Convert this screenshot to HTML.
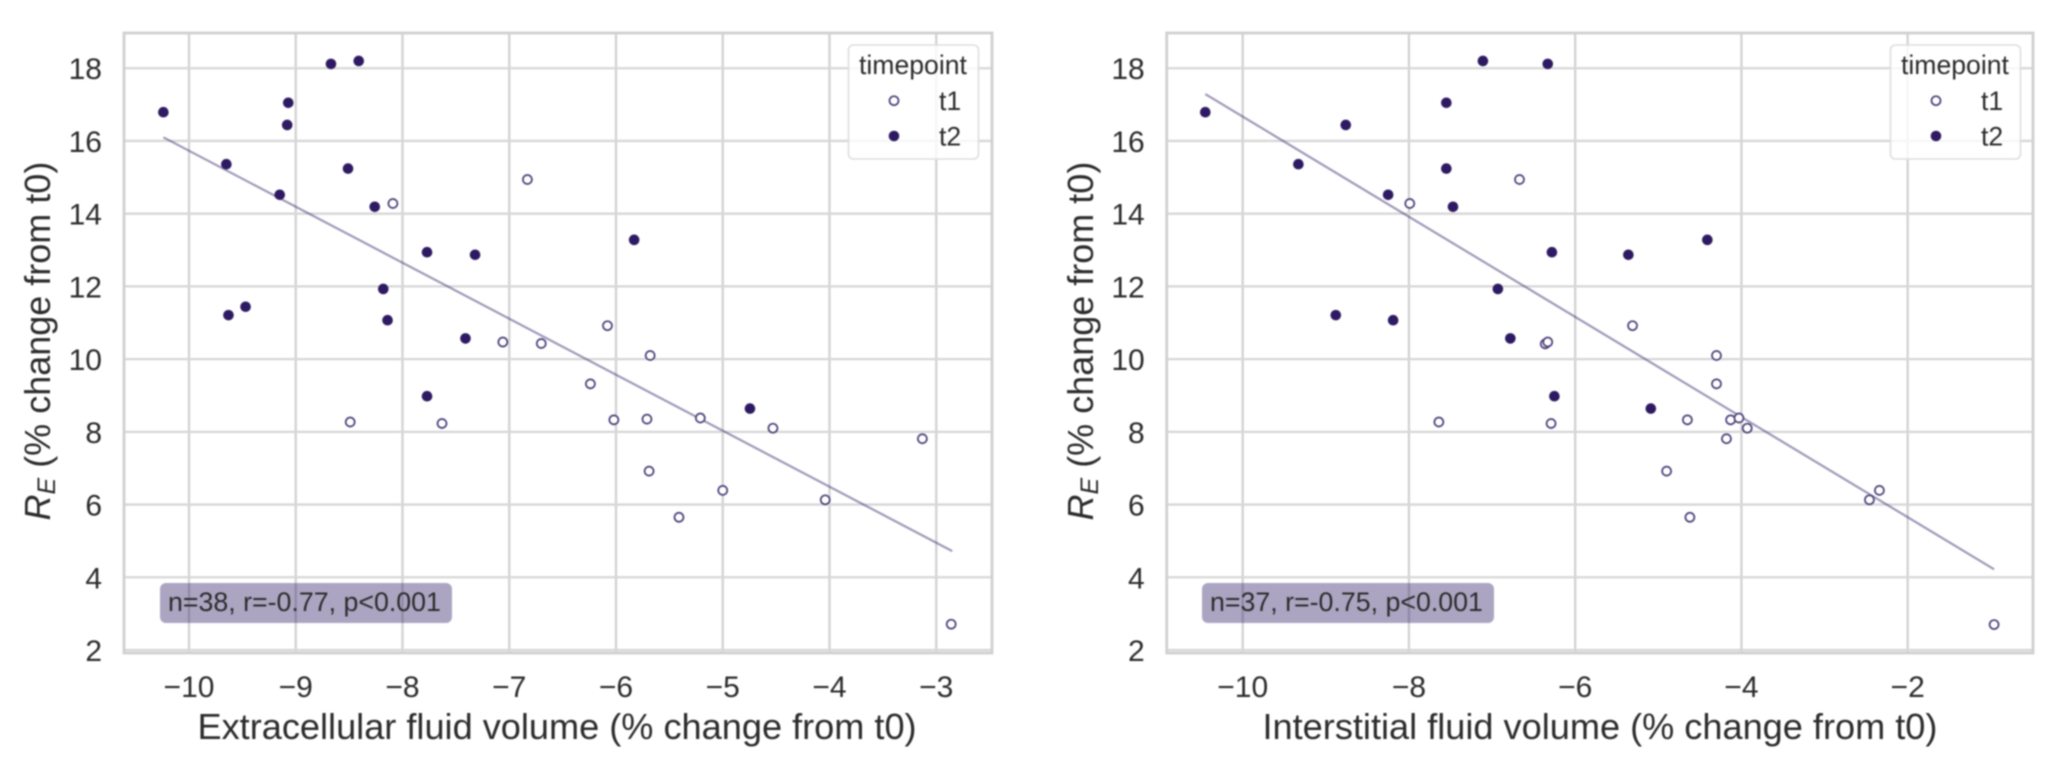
<!DOCTYPE html>
<html lang="en">
<head>
<meta charset="utf-8">
<title>RE versus fluid volume change</title>
<style>
html,body{margin:0;padding:0;background:#fff;width:2055px;height:771px;overflow:hidden}
svg{display:block;filter:blur(0.7px)}
text{font-family:"Liberation Sans",sans-serif;fill:#2c2c2c}
</style>
</head>
<body>
<svg id="figure" xmlns="http://www.w3.org/2000/svg" width="2055" height="771" viewBox="0 0 2055 771"></svg>
<script>
const yTicks = [2, 4, 6, 8, 10, 12, 14, 16, 18];
const leftXTicks = [-10, -9, -8, -7, -6, -5, -4, -3];
const rightXTicks = [-10, -8, -6, -4, -2];

const leftT1X = [-8.09, -8.49, -7.63, -7.06, -6.70, -6.83, -6.08, -5.68, -6.24, -6.02, -5.71, -5.21, -4.53, -3.13, -5.69, -5.00, -5.41, -4.04, -2.86];
const leftT1Y = [14.28, 8.27, 8.23, 10.47, 10.43, 14.94, 10.92, 10.10, 9.32, 8.33, 8.35, 8.38, 8.10, 7.81, 6.92, 6.39, 5.65, 6.13, 2.71];
const leftT2X = [-10.24, -9.65, -9.15, -9.07, -9.08, -8.67, -8.41, -8.51, -8.26, -9.63, -9.47, -8.18, -8.14, -7.77, -7.32, -7.41, -7.77, -5.83, -4.745];
const leftT2Y = [16.79, 15.36, 14.52, 17.05, 16.44, 18.12, 18.20, 15.24, 14.19, 11.21, 11.44, 11.93, 11.07, 12.94, 12.87, 10.57, 8.98, 13.28, 8.64];
const leftFitX = [-10.24, -2.85];
const leftFitY = [16.10, 4.72];

const rightT1X = [-7.99, -6.67, -7.64, -6.29, -6.36, -6.33, -5.31, -4.30, -4.30, -4.65, -4.13, -4.03, -3.93, -4.18, -4.90, -4.62, -2.46, -2.34, -0.96];
const rightT1Y = [14.28, 14.94, 8.27, 8.23, 10.42, 10.47, 10.92, 10.10, 9.32, 8.33, 8.33, 8.38, 8.10, 7.81, 6.92, 5.65, 6.13, 6.39, 2.70];
const rightT2X = [-10.45, -9.33, -8.76, -8.25, -7.55, -7.55, -7.47, -7.11, -6.33, -6.28, -8.88, -8.19, -6.93, -6.78, -6.25, -5.36, -4.41, -5.09];
const rightT2Y = [16.79, 15.36, 16.44, 14.52, 17.05, 15.24, 14.19, 18.20, 18.12, 12.94, 11.21, 11.07, 11.93, 10.57, 8.98, 12.87, 13.28, 8.64];
const rightFitX = [-10.45, -0.96];
const rightFitY = [17.29, 4.22];

const legendSeries = ['t1', 't2'];

const NS = 'http://www.w3.org/2000/svg';
const figure = document.getElementById('figure');

function yScale(v) { return 650 - (v - 2) * 36.36; }
function leftXScale(v) { return 189 + (v + 10) * 106.75; }
function rightXScale(v) { return 1242.7 + (v + 10) * 83.12; }

function make(tag, parent, attrs) {
  const el = document.createElementNS(NS, tag);
  for (const k in attrs) el.setAttribute(k, attrs[k]);
  parent.appendChild(el);
  return el;
}

function drawPanel(p) {
  const g = make('g', figure, {});
  
  

  p.xTicks.forEach(function (t) {
    const line = make('line', g, { x1: p.x(t), x2: p.x(t), y1: p.top, y2: p.bottom, stroke: '#d2d2d2', 'stroke-width': 2.3 });
    
    
    const label = make('text', g, { x: p.x(t), y: 697, 'text-anchor': 'middle', 'font-size': 30 });
    
    
    label.textContent = '\u2212' + Math.abs(t);
  });

  yTicks.forEach(function (t) {
    const line = make('line', g, { x1: p.left, x2: p.right, y1: yScale(t), y2: yScale(t), stroke: '#d7d7d7', 'stroke-width': 2.3 });
    
    
    const label = make('text', g, { x: p.left - 22, y: yScale(t) + 11, 'text-anchor': 'end', 'font-size': 30 });
    
    
    label.textContent = String(t);
  });

  const frame = make('rect', g, { x: p.left, y: p.top, width: p.right - p.left, height: p.bottom - p.top, fill: 'none', stroke: '#d0d0d0', 'stroke-width': 2.8 });
  
  

  const fit = make('line', g, { x1: p.x(p.fitX[0]), y1: yScale(p.fitY[0]), x2: p.x(p.fitX[1]), y2: yScale(p.fitY[1]), stroke: '#2e1e66', 'stroke-opacity': 0.45, 'stroke-width': 2.2 });
  
  

  p.t1X.forEach(function (v, i) {
    const c = make('circle', g, { cx: p.x(v), cy: yScale(p.t1Y[i]), r: 4.5, fill: '#fff', stroke: '#4c3f7a', 'stroke-width': 1.7 });
    
    
  });

  p.t2X.forEach(function (v, i) {
    const c = make('circle', g, { cx: p.x(v), cy: yScale(p.t2Y[i]), r: 5.3, fill: '#2e1a62' });
    
    
  });

  const box = make('rect', g, { x: p.noteX, y: 583, width: 292, height: 40, rx: 6, fill: '#2e1e66', 'fill-opacity': 0.4 });
  
  
  const note = make('text', g, { x: p.noteX + 8, y: 611, 'font-size': 26.75 });
  
  
  note.textContent = p.note;

  const xTitle = make('text', g, { x: p.xTitleX, y: 739, 'font-size': 36.15 });
  
  
  xTitle.textContent = p.xTitle;

  const yTitle = make('text', g, { transform: 'translate(' + p.yTitleX + ',520.5) rotate(-90)', 'font-size': 36 });
  
  
  const r = make('tspan', yTitle, { 'font-style': 'italic' });
  r.textContent = 'R';
  const e = make('tspan', yTitle, { 'font-style': 'italic', 'font-size': 25, dy: 5 });
  e.textContent = 'E';
  const rest = make('tspan', yTitle, { dy: -5 });
  rest.textContent = ' (% change from t0)';

  const legend = make('g', g, {});
  
  
  const legendBox = make('rect', legend, { x: p.legendX, y: 45, width: 130, height: 114, rx: 5, fill: '#fff', 'fill-opacity': 0.8, stroke: '#dedede', 'stroke-width': 1.6 });
  
  
  const legendTitle = make('text', legend, { x: p.legendX + 10.5, y: 74, 'font-size': 26.6 });
  
  
  legendTitle.textContent = 'timepoint';

  legendSeries.forEach(function (s, i) {
    const rowY = 100.7 + i * 35.3;
    const attrs = i === 0
      ? { cx: p.legendX + 45.5, cy: rowY, r: 4.5, fill: '#fff', stroke: '#4c3f7a', 'stroke-width': 1.7 }
      : { cx: p.legendX + 45.5, cy: rowY, r: 5.3, fill: '#2e1a62' };
    const m = make('circle', legend, attrs);
    
    
    const t = make('text', legend, { x: p.legendX + 90.5, y: rowY + 9.3, 'font-size': 26.6 });
    
    
    t.textContent = s;
  });
}

drawPanel({
  name: 'extracellular', x: leftXScale, xTicks: leftXTicks,
  left: 124, right: 992, top: 33, bottom: 653,
  t1X: leftT1X, t1Y: leftT1Y, t2X: leftT2X, t2Y: leftT2Y, fitX: leftFitX, fitY: leftFitY,
  note: 'n=38, r=-0.77, p<0.001', noteX: 160,
  xTitle: 'Extracellular fluid volume (% change from t0)', xTitleX: 197.5, yTitleX: 50,
  legendX: 848.5
});

drawPanel({
  name: 'interstitial', x: rightXScale, xTicks: rightXTicks,
  left: 1166.7, right: 2033, top: 33, bottom: 653,
  t1X: rightT1X, t1Y: rightT1Y, t2X: rightT2X, t2Y: rightT2Y, fitX: rightFitX, fitY: rightFitY,
  note: 'n=37, r=-0.75, p<0.001', noteX: 1202,
  xTitle: 'Interstitial fluid volume (% change from t0)', xTitleX: 1262.5, yTitleX: 1093,
  legendX: 1890.5
});
</script>
</body>
</html>
